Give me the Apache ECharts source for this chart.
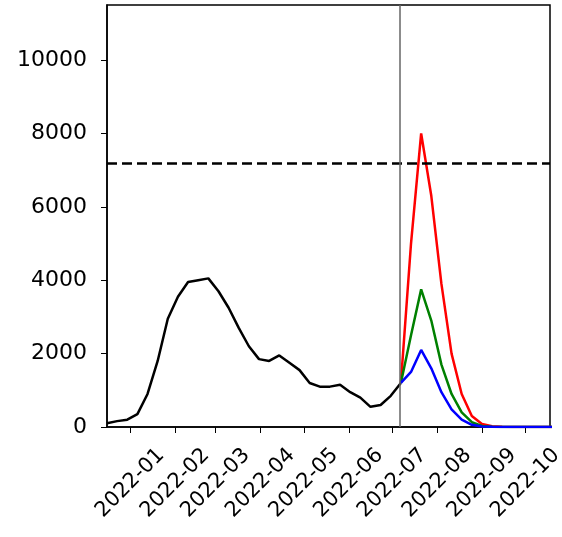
<!DOCTYPE html>
<html style="height: 100%">
<head>
    <meta charset="utf-8">
</head>
<body style="height: 100%; margin: 0; background: #fff">
    <div id="container" style="width: 562px; height: 537px"></div>
    <script type="text/javascript" src="https://cdn.jsdelivr.net/npm/echarts@6/dist/echarts.min.js"></script>
    <script type="text/javascript">
// weekly observations from 2021-12-16
var startDate = '2021-12-16';
var observed = [100, 160, 200, 350, 900, 1800, 2950, 3550, 3950, 4000, 4050, 3700, 3250, 2700, 2200,
    1850, 1800, 1950, 1750, 1550, 1200, 1100, 1100, 1150, 950, 800, 550, 600, 850, 1200];
// scenario projections, starting at the last observed week
var projHigh = [1200, 5000, 8000, 6300, 3900, 2000, 900, 300, 80, 20, 5, 0, 0, 0, 0, 0, 0];
var projMid  = [1200, 2500, 3750, 2900, 1700, 900, 400, 130, 30, 8, 2, 0, 0, 0, 0, 0, 0];
var projLow  = [1200, 1500, 2100, 1600, 950, 480, 200, 60, 15, 4, 1, 0, 0, 0, 0, 0, 0];
var threshold = 7200;
var cutoffDate = '2022-07-06';

var DAY = 86400000;
var t0 = new Date(startDate + 'T00:00:00Z').getTime();
function weekly(values, offset) {
    return values.map(function (v, i) { return [t0 + (offset + i) * 7 * DAY, v]; });
}
var cut = observed.length - 1;
var font = 'DejaVu Sans';

var myChart = echarts.init(document.getElementById('container'));
var option = {
    animation: false,
    grid: { left: 107, right: 12, top: 5, bottom: 110, show: true, borderColor: '#000', borderWidth: 1.5,
        containLabel: false, outerBoundsMode: 'none' },
    xAxis: {
        type: 'time',
        min: t0,
        max: new Date('2022-10-18T00:00:00Z').getTime(),
        splitNumber: 10,
        axisLine: { lineStyle: { color: '#000', width: 1.5 } },
        axisTick: { lineStyle: { color: '#000' }, length: 6 },
        splitLine: { show: false },
        axisLabel: {
            rotate: 45, color: '#000', fontSize: 21, fontFamily: font,
            hideOverlap: false, align: 'center', verticalAlign: 'middle', margin: 56,
            formatter: '{yyyy}-{MM}'
        }
    },
    yAxis: {
        type: 'value',
        min: 0, max: 11500, interval: 2000,
        axisLine: { show: true, lineStyle: { color: '#000', width: 1.5 } },
        axisTick: { show: true, lineStyle: { color: '#000' }, length: 6 },
        splitLine: { show: false },
        axisLabel: { color: '#000', fontSize: 22, fontFamily: font, showMaxLabel: false, margin: 20,
            formatter: function (v) { return String(v); } }
    },
    series: [
        { type: 'line', data: weekly(observed, 0), symbol: 'none', lineStyle: { color: '#000', width: 2.5 },
          markLine: {
              symbol: 'none', silent: true, label: { show: false },
              data: [
                  { yAxis: threshold, lineStyle: { color: '#000', type: [10, 5], width: 2.5 } },
                  { xAxis: new Date(cutoffDate + 'T00:00:00Z').getTime(), lineStyle: { color: '#666', type: 'solid', width: 1.5 } }
              ]
          } },
        { type: 'line', data: weekly(projHigh, cut), symbol: 'none', lineStyle: { color: '#ff0000', width: 2.5 } },
        { type: 'line', data: weekly(projMid, cut), symbol: 'none', lineStyle: { color: '#008000', width: 2.5 } },
        { type: 'line', data: weekly(projLow, cut), symbol: 'none', lineStyle: { color: '#0000ff', width: 2.5 } }
    ]
};
myChart.setOption(option, true);
</script>
</body>
</html>
